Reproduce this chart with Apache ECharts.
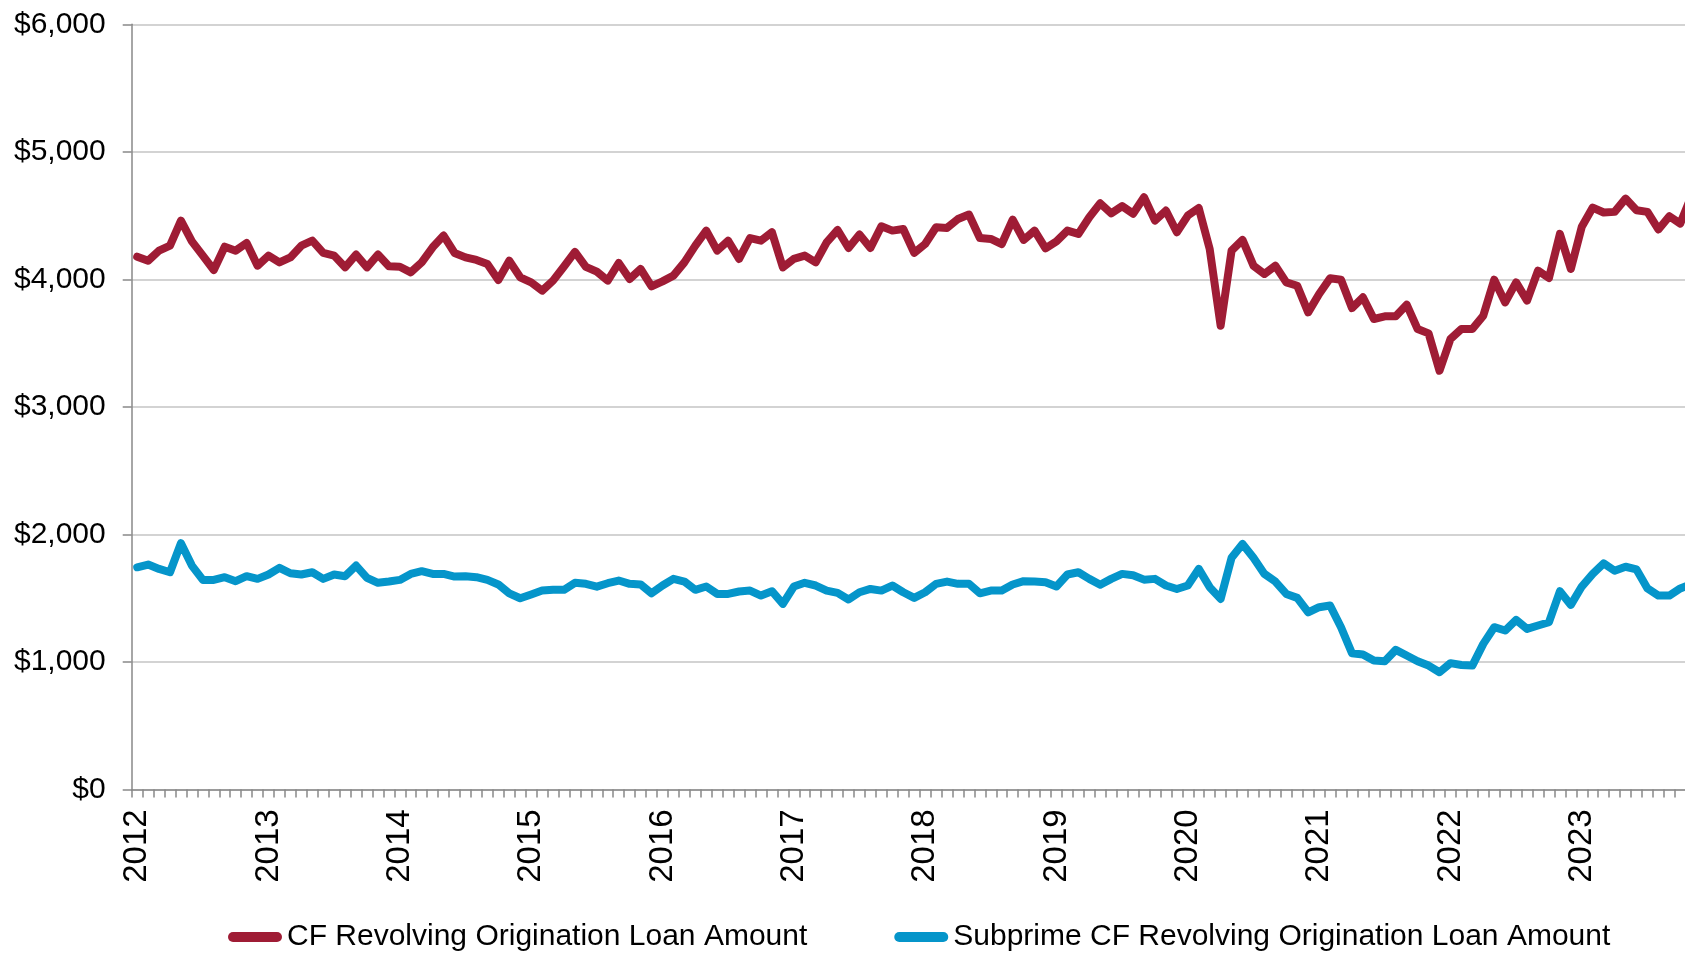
<!DOCTYPE html>
<html>
<head>
<meta charset="utf-8">
<title>CF Revolving Origination Loan Amount</title>
<script src="https://cdn.jsdelivr.net/npm/echarts@6.0.0/dist/echarts.min.js"></script>
<style>
  html, body { margin: 0; padding: 0; background: #ffffff; overflow: hidden; }
  /* The plot runs a little past the right edge of the window, so the canvas is wider than the view */
  #chart { width: 1712px; height: 953px; }
</style>
</head>
<body>
<div id="chart"></div>
<script>
// Years shown on the time axis (monthly data, Jan 2012 – Nov 2023)
const years = ['2012', '2013', '2014', '2015', '2016', '2017', '2018', '2019', '2020', '2021', '2022', '2023'];
const monthsInLastYear = 11;

// Y-axis tick values
const yTicks = [0, 1000, 2000, 3000, 4000, 5000, 6000];

// Series names
const seriesNames = ['CF Revolving Origination Loan Amount', 'Subprime CF Revolving Origination Loan Amount'];

// Monthly average origination loan amount, all credit card revolving accounts ($)
const cfRevolving = [
  4178, 4146, 4225, 4264, 4460, 4298, 4186, 4073, 4256, 4225, 4285, 4107,
  4186, 4133, 4172, 4264, 4303, 4207, 4186, 4094, 4194, 4094, 4194, 4102,
  4099, 4055, 4133, 4251, 4343, 4207, 4172, 4152, 4120, 3995, 4146, 4016,
  3976, 3911, 3990, 4100, 4215, 4098, 4060, 3990, 4128, 4003, 4081, 3945,
  3984, 4029, 4133, 4264, 4382, 4225, 4303, 4160, 4324, 4303, 4369, 4094,
  4160, 4186, 4133, 4290, 4387, 4246, 4351, 4246, 4416, 4382, 4395, 4207,
  4277, 4408, 4403, 4473, 4508, 4324, 4317, 4277, 4468, 4309, 4382, 4243,
  4298, 4382, 4356, 4487, 4596, 4517, 4574, 4515, 4644, 4460, 4539, 4369,
  4500, 4560, 4238, 3636, 4225, 4309, 4107, 4042, 4107, 3976, 3950, 3741,
  3885, 4008, 3997, 3775, 3859, 3689, 3710, 3710, 3801, 3610, 3576, 3283,
  3532, 3610, 3610, 3715, 3997, 3819, 3976, 3833, 4068, 4010, 4356, 4081,
  4413, 4563, 4524, 4529, 4633, 4542, 4529, 4391, 4495, 4437, 4650
];

// Monthly average origination loan amount, subprime revolving accounts ($)
const subprimeRevolving = [
  1742, 1763, 1729, 1703, 1931, 1755, 1643, 1643, 1664, 1633, 1672, 1651,
  1685, 1737, 1695, 1685, 1703, 1651, 1685, 1672, 1755, 1659, 1620, 1630,
  1643, 1690, 1711, 1690, 1690, 1669, 1672, 1664, 1643, 1607, 1538, 1499,
  1528, 1559, 1565, 1565, 1620, 1612, 1590, 1617, 1638, 1612, 1607, 1538,
  1599, 1651, 1630, 1565, 1591, 1533, 1533, 1552, 1559, 1520, 1554, 1455,
  1591, 1620, 1599, 1559, 1541, 1489, 1546, 1572, 1559, 1599, 1546, 1502,
  1546, 1612, 1630, 1612, 1612, 1538, 1559, 1559, 1607, 1633, 1630, 1625,
  1591, 1685, 1703, 1651, 1605, 1651, 1690, 1680, 1645, 1651, 1599, 1572,
  1599, 1729, 1586, 1494, 1816, 1925, 1816, 1690, 1630, 1533, 1502, 1389,
  1429, 1442, 1272, 1068, 1058, 1010, 1005, 1094, 1050, 1005, 971, 919,
  990, 976, 971, 1141, 1272, 1246, 1329, 1259, 1285, 1311, 1554, 1447,
  1591, 1690, 1772, 1715, 1746, 1725, 1576, 1520, 1520, 1576, 1610
];

// Build the monthly category list (YYYY-MM) from the year list
const months = [];
years.forEach(function (y, yi) {
  const n = yi === years.length - 1 ? monthsInLastYear : 12;
  for (let m = 1; m <= n; m++) {
    months.push(y + '-' + (m < 10 ? '0' + m : m));
  }
});

const FONT = '"Liberation Sans", Arial, Helvetica, sans-serif';
const AXIS_GREY = '#898989';
const RED = '#9F1C35';
const BLUE = '#0595CA';

function dollars(v) {
  return '$' + v.toString().replace(/\B(?=(\d{3})+(?!\d))/g, ',');
}

// Legend marker: a thick bar with rounded ends
const barIcon = 'path://M5,0 L49,0 A5,5 0 0 1 49,10 L5,10 A5,5 0 0 1 5,0 Z';

const chart = echarts.init(document.getElementById('chart'), null, { renderer: 'canvas' });

chart.setOption({
  animation: false,
  backgroundColor: '#ffffff',
  textStyle: { fontFamily: FONT },
  grid: {
    left: 131.7,
    top: 24.3,
    width: 1565,
    height: 765.1,
    containLabel: false
  },
  legend: {
    left: 228,
    top: 922,
    padding: 0,
    itemWidth: 54,
    itemHeight: 10,
    itemGap: 87,
    icon: barIcon,
    textStyle: { fontFamily: FONT, fontSize: 30, color: '#000000' },
    data: [
      { name: seriesNames[0], itemStyle: { color: RED } },
      { name: seriesNames[1], itemStyle: { color: BLUE } }
    ]
  },
  xAxis: {
    type: 'category',
    data: months,
    boundaryGap: true,
    axisLine: { show: true, lineStyle: { color: AXIS_GREY, width: 1.5 } },
    axisTick: { show: true, interval: 0, length: 8, lineStyle: { color: AXIS_GREY, width: 1.5 } },
    axisLabel: {
      interval: 11,
      rotate: 90,
      margin: 20,
      fontFamily: FONT,
      fontSize: 33,
      color: '#000000',
      formatter: function (v) { return v.slice(0, 4); }
    },
    splitLine: { show: false }
  },
  yAxis: {
    type: 'value',
    min: yTicks[0],
    max: yTicks[yTicks.length - 1],
    interval: yTicks[1] - yTicks[0],
    axisLine: { show: true, lineStyle: { color: AXIS_GREY, width: 1.5 } },
    axisTick: { show: true, length: 9, lineStyle: { color: AXIS_GREY, width: 1.5 } },
    axisLabel: {
      margin: 26,
      fontFamily: FONT,
      fontSize: 30,
      color: '#000000',
      formatter: dollars
    },
    splitLine: { show: true, lineStyle: { color: '#C4C4C4', width: 1.5 } }
  },
  series: [
    {
      name: seriesNames[0],
      type: 'line',
      data: cfRevolving,
      symbol: 'none',
      smooth: false,
      lineStyle: { color: RED, width: 8, join: 'round', cap: 'round' },
      itemStyle: { color: RED },
      z: 3
    },
    {
      name: seriesNames[1],
      type: 'line',
      data: subprimeRevolving,
      symbol: 'none',
      smooth: false,
      lineStyle: { color: BLUE, width: 8, join: 'round', cap: 'round' },
      itemStyle: { color: BLUE },
      z: 3
    }
  ]
});
</script>
</body>
</html>
